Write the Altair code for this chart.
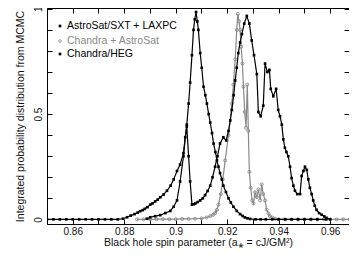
import altair as alt
import pandas as pd

SERIES = ["AstroSat/SXT + LAXPC", "Chandra + AstroSat", "Chandra/HEG"]

astro_x = [0.8500, 0.8525, 0.8550, 0.8575, 0.8600, 0.8625, 0.8650, 0.8675, 0.8700, 0.8725,
           0.8750, 0.8775, 0.8795, 0.8811, 0.8825, 0.884, 0.8852, 0.8862, 0.8872, 0.888,
           0.8890, 0.8901, 0.8910, 0.892, 0.893, 0.894, 0.8953, 0.8966, 0.898, 0.8992,
           0.9005, 0.9017, 0.9030, 0.9043, 0.9050, 0.9056, 0.9063, 0.9069, 0.9074, 0.9079,
           0.9084, 0.9088, 0.9095, 0.9101, 0.9108, 0.9115, 0.9121, 0.9128, 0.9134, 0.9141,
           0.9147, 0.9154, 0.9160, 0.9166, 0.9172, 0.9179, 0.9185, 0.9195, 0.9205, 0.9214,
           0.9224, 0.9237, 0.9250, 0.9260, 0.9269, 0.9279, 0.9289, 0.9310, 0.9330, 0.9350,
           0.9375, 0.9400, 0.9425, 0.9450, 0.9475, 0.9500, 0.9525, 0.9550, 0.9585]
astro_y = [0.0, 0.0, 0.0, 0.0, 0.0, 0.0, 0.0, 0.0, 0.0, 0.0,
           0.0, 0.0, 0.003, 0.01, 0.018, 0.025, 0.032, 0.039, 0.044, 0.05,
           0.058, 0.07, 0.076, 0.085, 0.094, 0.105, 0.118, 0.136, 0.16, 0.19,
           0.23, 0.26, 0.315, 0.45, 0.55, 0.65, 0.78, 0.90, 0.95, 0.985,
           0.94, 0.90, 0.79, 0.72, 0.63, 0.59, 0.55, 0.50, 0.46, 0.41,
           0.36, 0.32, 0.28, 0.25, 0.22, 0.19, 0.16, 0.13, 0.10, 0.08,
           0.06, 0.04, 0.025, 0.016, 0.009, 0.005, 0.002, 0.0, 0.0, 0.0,
           0.0, 0.0, 0.0, 0.0, 0.0, 0.0, 0.0, 0.0, 0.0]

gray_x = [0.8850, 0.8875, 0.8900, 0.8925, 0.8950, 0.8975, 0.9000, 0.9025, 0.9050, 0.9075,
          0.9100, 0.9120, 0.9134, 0.9145, 0.9153, 0.9160, 0.9166, 0.9175, 0.9183, 0.9192,
          0.9205, 0.9218, 0.9224, 0.9231, 0.9237, 0.9241, 0.9246, 0.9250, 0.9254, 0.9259,
          0.9263, 0.9268, 0.9273, 0.9278, 0.9282, 0.9286, 0.9291, 0.9297, 0.9302, 0.9308,
          0.9315, 0.9321, 0.9328, 0.9334, 0.9340, 0.9347, 0.9353, 0.9360, 0.9366, 0.9376,
          0.9386, 0.9400, 0.9425, 0.9450, 0.9475, 0.9500, 0.9525, 0.9550, 0.9575, 0.9600,
          0.9625, 0.9650, 0.9675, 0.9700]
gray_y = [0.0, 0.0, 0.0, 0.001, 0.001, 0.001, 0.001, 0.002, 0.002, 0.003,
          0.005, 0.009, 0.016, 0.022, 0.03, 0.045, 0.07, 0.12, 0.19, 0.28,
          0.40, 0.55, 0.64, 0.76, 0.90, 0.976, 0.94, 0.90, 0.82, 0.74,
          0.63, 0.51, 0.435, 0.64, 0.42, 0.226, 0.15, 0.09, 0.076, 0.128,
          0.106, 0.143, 0.09, 0.166, 0.12, 0.09, 0.046, 0.028, 0.016, 0.008,
          0.003, 0.0, 0.0, 0.0, 0.0, 0.0, 0.0, 0.0, 0.0, 0.0,
          0.0, 0.0, 0.0, 0.0]

heg_x = [0.8888, 0.8901, 0.892, 0.894, 0.896, 0.8979, 0.8992, 0.9005, 0.9017, 0.9030,
         0.9037, 0.9043, 0.9050, 0.9056, 0.9063, 0.9070, 0.9076, 0.9085, 0.9095, 0.9105,
         0.9114, 0.9124, 0.9134, 0.9143, 0.9153, 0.9162, 0.9172, 0.9185, 0.9196, 0.9205,
         0.9212, 0.9218, 0.9225, 0.9231, 0.9237, 0.9243, 0.9250, 0.9257, 0.9266, 0.9276,
         0.9286, 0.9295, 0.9304, 0.9315, 0.9321, 0.9330, 0.9340, 0.9347, 0.9356, 0.9364,
         0.9369, 0.9379, 0.9390, 0.9398, 0.9405, 0.9412, 0.9418, 0.9424, 0.9430, 0.9437,
         0.9444, 0.9450, 0.9457, 0.9463, 0.9472, 0.9483, 0.9489, 0.9496, 0.9502, 0.9509,
         0.9515, 0.9521, 0.9528, 0.9534, 0.9540, 0.9547, 0.9557, 0.9567, 0.9577, 0.9586,
         0.9600]
heg_y = [0.003, 0.01, 0.015, 0.02, 0.03, 0.04, 0.06, 0.09, 0.18, 0.30,
         0.39, 0.44, 0.30, 0.18, 0.07, 0.072, 0.075, 0.082, 0.09, 0.10,
         0.115, 0.135, 0.16, 0.20, 0.25, 0.30, 0.36, 0.39, 0.375, 0.42,
         0.47, 0.52, 0.59, 0.66, 0.72, 0.79, 0.84, 0.88, 0.93, 0.966,
         0.93, 0.85, 0.78, 0.69, 0.51, 0.49, 0.54, 0.74, 0.70, 0.71,
         0.62, 0.585, 0.62, 0.52, 0.49, 0.45, 0.38, 0.34, 0.32, 0.30,
         0.25, 0.196, 0.16, 0.136, 0.12, 0.12, 0.206, 0.23, 0.25, 0.235,
         0.19, 0.15, 0.12, 0.09, 0.065, 0.045, 0.03, 0.022, 0.014, 0.007,
         0.0]

x_tick_values = [0.85, 0.86, 0.87, 0.88, 0.89, 0.90, 0.91, 0.92, 0.93, 0.94, 0.95, 0.96]
y_tick_values = [0.0, 0.1, 0.2, 0.3, 0.4, 0.5, 0.6, 0.7, 0.8, 0.9, 1.0]

X_TITLE = "Black hole spin parameter (a⁎ = cJ/GM²)"
Y_TITLE = "Integrated probability distribution from MCMC"

BLACK = "#000000"
GRAY = "#8a8a8a"
FONT = "Liberation Sans"

df_astro = pd.DataFrame({"x": astro_x, "y": astro_y})
df_gray = pd.DataFrame({"x": gray_x, "y": gray_y})
df_heg = pd.DataFrame({"x": heg_x, "y": heg_y})

x_scale = alt.Scale(domain=[0.85, 0.9673], nice=False, zero=False)
y_scale = alt.Scale(domain=[-0.022, 1.004], nice=False, zero=False)

axis_bottom = alt.Axis(
    orient="bottom", values=x_tick_values,
    labelExpr="round(datum.value*100) % 2 == 0 ? format(datum.value, '.2~f') : ''",
    offset=-5, tickSize=5, domain=False, grid=False, labelPadding=2,
    labelOverlap=False, labelFlush=False, title=X_TITLE, titlePadding=1,
)
axis_left = alt.Axis(
    orient="left", values=y_tick_values,
    labelExpr="datum.value == 0 ? '0' : (abs(datum.value - 0.5) < 0.001 ? '0.5' : (abs(datum.value - 1) < 0.001 ? '1' : ''))",
    offset=-5, tickSize=5, domain=False, grid=False, labelPadding=4,
    labelAngle=270, labelAlign="center", labelBaseline="bottom",
    labelOverlap=False, labelFlush=False, title=Y_TITLE, titlePadding=8,
)
axis_top = alt.Axis(orient="top", values=x_tick_values, offset=-5, tickSize=5,
                    domain=False, grid=False, labels=False, title=None)
axis_right = alt.Axis(orient="right", values=y_tick_values, offset=-5, tickSize=5,
                      domain=False, grid=False, labels=False, title=None)

gray_layer = alt.Chart(df_gray).mark_line(
    color=GRAY, strokeWidth=1.2, clip=True,
    point=alt.OverlayMarkDef(shape="circle", filled=False, size=9, color=GRAY,
                             strokeWidth=0.9, clip=True),
).encode(x=alt.X("x:Q", scale=x_scale, axis=axis_bottom),
         y=alt.Y("y:Q", scale=y_scale, axis=axis_left))

astro_layer = alt.Chart(df_astro).mark_line(
    color=BLACK, strokeWidth=1.2, clip=True,
    point=alt.OverlayMarkDef(shape="square", filled=True, size=7, color=BLACK, clip=True),
).encode(x=alt.X("x:Q", scale=x_scale, axis=axis_top),
         y=alt.Y("y:Q", scale=y_scale, axis=axis_right))

heg_layer = alt.Chart(df_heg).mark_line(
    color=BLACK, strokeWidth=1.2, clip=True,
    point=alt.OverlayMarkDef(shape="square", filled=True, size=7, color=BLACK, clip=True),
).encode(x=alt.X("x:Q", scale=x_scale, axis=None),
         y=alt.Y("y:Q", scale=y_scale, axis=None))

legend_layers = []
legend_styles = [("square", True, BLACK), ("circle", False, GRAY), ("square", True, BLACK)]
legend_rows = [18, 33, 46]
for name, (shape, filled, col), ry in zip(SERIES, legend_styles, legend_rows):
    ldf = pd.DataFrame({"label": [name]})
    legend_layers.append(
        alt.Chart(ldf).mark_point(shape=shape, filled=filled, size=7, color=col,
                                  strokeWidth=0.8, opacity=1)
        .encode(x=alt.value(13), y=alt.value(ry))
    )
    legend_layers.append(
        alt.Chart(ldf).mark_text(align="left", baseline="middle", font=FONT,
                                 fontSize=10.5, color=col)
        .encode(text="label:N", x=alt.value(20), y=alt.value(ry))
    )

chart = alt.layer(gray_layer, astro_layer, heg_layer, *legend_layers).resolve_axis(
    x="independent", y="independent"
).properties(
    width=302, height=216,
    autosize=alt.AutoSizeParams(type="none"),
    padding={"left": 39, "top": 0, "right": 0, "bottom": 25},
).configure_view(
    stroke=BLACK, strokeWidth=1
).configure_axis(
    labelFont=FONT, titleFont=FONT, labelFontSize=10, titleFontSize=10.5,
    labelColor="#111111", titleColor="#111111", tickColor=BLACK, tickWidth=1,
    titleFontWeight="normal",
)

chart.save("out.html", embed_options={"renderer": "svg", "actions": False})
